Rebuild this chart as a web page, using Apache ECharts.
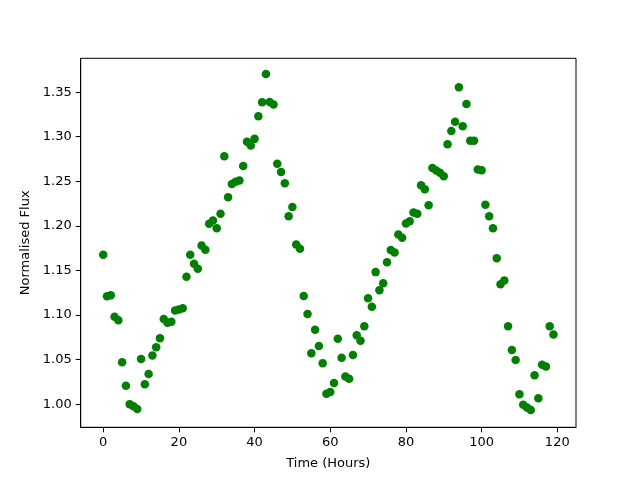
<!DOCTYPE html>
<html>
<head>
<meta charset="utf-8">
<script src="https://cdn.jsdelivr.net/npm/echarts@6/dist/echarts.min.js"></script>
<style>
  html, body { margin: 0; padding: 0; background: #fff; }
  #chart { width: 640px; height: 480px; }
</style>
</head>
<body>
<div id="chart"></div>
<script>
// hours 0..119, one reading per hour
const hours = Array.from({ length: 120 }, (_, i) => i);

const flux = [
  1.1675, 1.1210, 1.1222, 1.0980, 1.0940, 1.0470, 1.0205, 1.0000, 0.9975, 0.9944,
  1.0505, 1.0224, 1.0337, 1.0545, 1.0639, 1.0740, 1.0954, 1.0912, 1.0923, 1.1050,
  1.1063, 1.1077, 1.1428, 1.1675, 1.1574, 1.1518, 1.1779, 1.1731, 1.2023, 1.2060,
  1.1974, 1.2135, 1.2782, 1.2322, 1.2471, 1.2494, 1.2508, 1.2673, 1.2943, 1.2901,
  1.2976, 1.3231, 1.3388, 1.3705, 1.3391, 1.3361, 1.2696, 1.2603, 1.2479, 1.2109,
  1.2213, 1.1790, 1.1742, 1.1212, 1.1010, 1.0572, 1.0834, 1.0651, 1.0460, 1.0116,
  1.0135, 1.0236, 1.0733, 1.0519, 1.0310, 1.0284, 1.0550, 1.0774, 1.0710, 1.0875,
  1.1189, 1.1092, 1.1481, 1.1279, 1.1357, 1.1593, 1.1728, 1.1701, 1.1903, 1.1866,
  1.2026, 1.2053, 1.2149, 1.2135, 1.2457, 1.2412, 1.2232, 1.2648, 1.2621, 1.2595,
  1.2558, 1.2917, 1.3063, 1.3167, 1.3556, 1.3119, 1.3366, 1.2954, 1.2954, 1.2632,
  1.2625, 1.2236, 1.2109, 1.1974, 1.1638, 1.1346, 1.1387, 1.0875, 1.0606, 1.0494,
  1.0112, 0.9992, 0.9962, 0.9933, 1.0325, 1.0067, 1.0441, 1.0422, 1.0875, 1.0781
];

const xTicks = [0, 20, 40, 60, 80, 100, 120];
const yTicks = [1.00, 1.05, 1.10, 1.15, 1.20, 1.25, 1.30, 1.35];

const font = 'DejaVu Sans';
const chart = echarts.init(document.getElementById('chart'));

chart.setOption({
  animation: false,
  grid: {
    left: 80.7, right: 64, top: 58.3, bottom: 52.7,
    show: true, borderColor: '#000', borderWidth: 1, backgroundColor: '#fff'
  },
  xAxis: {
    type: 'value',
    min: -5.95, max: 124.95,
    name: 'Time (Hours)',
    nameLocation: 'middle',
    nameGap: 30,
    nameTextStyle: { fontFamily: font, fontSize: 13, color: '#000' },
    axisLine: { show: true, onZero: false, lineStyle: { color: '#000' } },
    axisTick: { show: true, inside: false, length: 5, customValues: xTicks, lineStyle: { color: '#000' } },
    axisLabel: { customValues: xTicks, margin: 9, fontFamily: font, fontSize: 13, color: '#000' },
    splitLine: { show: false }
  },
  yAxis: {
    type: 'value',
    min: 0.974, max: 1.388,
    name: 'Normalised Flux',
    nameLocation: 'middle',
    nameGap: 47,
    nameTextStyle: { fontFamily: font, fontSize: 13, color: '#000' },
    axisLine: { show: true, onZero: false, lineStyle: { color: '#000' } },
    axisTick: { show: true, inside: false, length: 5, customValues: yTicks, lineStyle: { color: '#000' } },
    axisLabel: {
      customValues: yTicks, margin: 9, fontFamily: font, fontSize: 13, color: '#000',
      formatter: v => v.toFixed(2)
    },
    splitLine: { show: false }
  },
  series: [{
    type: 'scatter',
    data: hours.map((h, i) => [h, flux[i]]),
    symbol: 'circle',
    symbolSize: 8.5,
    itemStyle: { color: '#008000', opacity: 1 }
  }]
});
</script>
</body>
</html>
